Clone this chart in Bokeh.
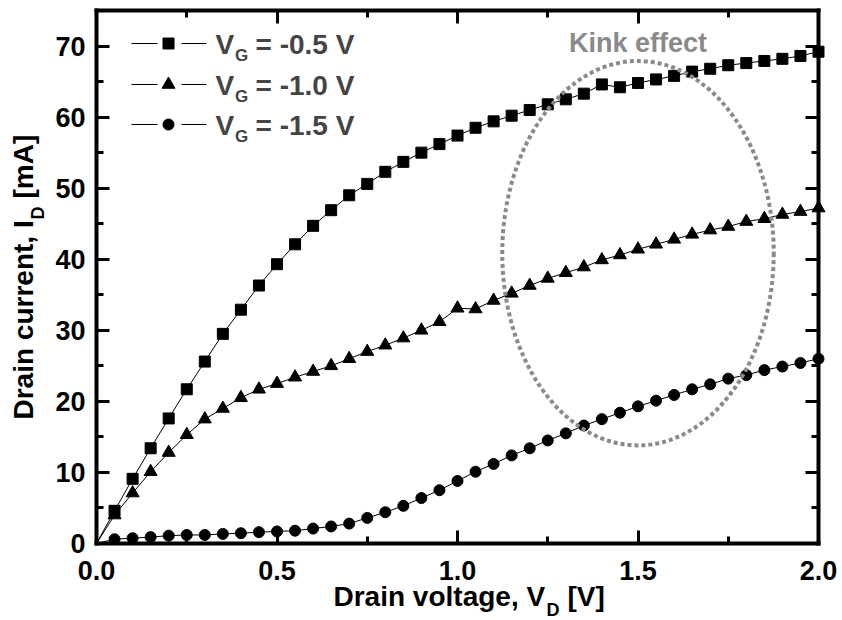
import math
from bokeh.plotting import figure
from bokeh.models import Range1d, LinearAxis, Label, FixedTicker, PrintfTickFormatter
from bokeh.embed import file_html
from bokeh.resources import INLINE

# ---------------- data ----------------
V_D = [0.00, 0.05, 0.10, 0.15, 0.20, 0.25, 0.30, 0.35, 0.40, 0.45,
       0.50, 0.55, 0.60, 0.65, 0.70, 0.75, 0.80, 0.85, 0.90, 0.95,
       1.00, 1.05, 1.10, 1.15, 1.20, 1.25, 1.30, 1.35, 1.40, 1.45,
       1.50, 1.55, 1.60, 1.65, 1.70, 1.75, 1.80, 1.85, 1.90, 1.95, 2.00]

I_D_VG_m05 = [0.0, 4.6, 9.1, 13.4, 17.6, 21.7, 25.6, 29.5, 32.9, 36.3,
              39.3, 42.1, 44.7, 46.9, 49.0, 50.6, 52.3, 53.7, 55.0, 56.2,
              57.4, 58.5, 59.4, 60.2, 61.0, 61.8, 62.5, 63.3, 64.6, 64.2,
              64.8, 65.3, 65.8, 66.4, 66.8, 67.3, 67.6, 67.9, 68.2, 68.6, 69.2]

I_D_VG_m10 = [0.0, 4.0, 7.1, 10.1, 12.8, 15.3, 17.5, 19.0, 20.5, 21.7,
              22.5, 23.4, 24.2, 25.0, 26.0, 27.0, 27.9, 28.9, 30.0, 31.2,
              33.1, 33.0, 34.2, 35.2, 36.3, 37.3, 38.1, 38.9, 39.9, 40.6,
              41.4, 42.1, 42.8, 43.5, 44.1, 44.6, 45.3, 45.7, 46.3, 46.7, 47.2]

I_D_VG_m15 = [0.0, 0.6, 0.75, 0.9, 1.1, 1.2, 1.2, 1.35, 1.45, 1.6,
              1.7, 1.8, 2.1, 2.4, 2.8, 3.6, 4.4, 5.3, 6.4, 7.5,
              8.8, 10.1, 11.2, 12.4, 13.4, 14.5, 15.5, 16.6, 17.5, 18.4,
              19.3, 20.1, 20.9, 21.7, 22.4, 23.2, 23.7, 24.4, 24.9, 25.4, 26.0]

series_values = ["-0.5", "-1.0", "-1.5"]
series_markers = ["square", "triangle", "circle"]

x_lim = (0.0, 2.0)
y_lim = (0.0, 75.0)
x_ticks = [0.0, 0.5, 1.0, 1.5, 2.0]
x_minor = [0.25, 0.75, 1.25, 1.75]
y_ticks = [0, 10, 20, 30, 40, 50, 60, 70]
y_minor = [5, 15, 25, 35, 45, 55, 65]

kink_text = "Kink effect"
kink_x, kink_y, kink_w, kink_h = 1.5, 40.85, 0.752, 54.1

x_title = ("Drain voltage, V", "D", "[V]")
y_title = ("Drain current, I", "D", "[mA]")

# ---------------- layout ----------------
W, H = 842, 620
L, R, T, B = 96, 24, 10, 77          # plot-area margins in pixels
FONT = "Liberation Sans"
GRAY = "#8a8a8a"

# the frame covers the whole canvas; the axes sit at fixed data locations
ux = (x_lim[1] - x_lim[0]) / (W - L - R)
uy = (y_lim[1] - y_lim[0]) / (H - T - B)
x_range = Range1d(x_lim[0] - L * ux, x_lim[1] + R * ux)
y_range = Range1d(y_lim[0] - B * uy, y_lim[1] + T * uy)

p = figure(width=W, height=H, x_range=x_range, y_range=y_range,
           output_backend="svg", toolbar_location=None,
           x_axis_location=None, y_axis_location=None,
           min_border=0, min_border_left=0, min_border_right=0,
           min_border_top=0, min_border_bottom=0)
p.title.visible = False
p.outline_line_color = None
p.background_fill_color = "white"
p.border_fill_color = "white"
p.xgrid.visible = False
p.ygrid.visible = False

# pixel-space helper ranges (canvas coordinates, top-left origin)
p.extra_x_ranges = {"px": Range1d(0, W)}
p.extra_y_ranges = {"px": Range1d(H, 0)}


def make_axis(ticks, minor, fixed, bounds, show_labels, standoff=0, fmt=None):
    kw = {}
    if not show_labels:
        kw["major_label_overrides"] = {t: "" for t in ticks}
    ax = LinearAxis(ticker=FixedTicker(ticks=ticks, minor_ticks=minor),
                    fixed_location=fixed, bounds=bounds, **kw)
    if fmt is not None:
        ax.formatter = fmt
    ax.axis_line_width = 4
    ax.axis_line_color = "black"
    ax.axis_line_cap = "square"
    ax.major_tick_in = 13
    ax.major_tick_out = 0
    ax.minor_tick_in = 7
    ax.minor_tick_out = 0
    ax.major_tick_line_width = 3
    ax.minor_tick_line_width = 3
    ax.major_tick_line_color = "black"
    ax.minor_tick_line_color = "black"
    ax.major_label_text_font = FONT
    ax.major_label_text_font_style = "bold"
    ax.major_label_text_font_size = "27px"
    ax.major_label_text_color = "black"
    ax.major_label_standoff = standoff
    ax.axis_label = None
    return ax


p.add_layout(make_axis(x_ticks, x_minor, y_lim[0], x_lim, True, 17,
                       PrintfTickFormatter(format="%.1f")), "below")
p.add_layout(make_axis(x_ticks, x_minor, y_lim[1], x_lim, False), "above")
p.add_layout(make_axis(y_ticks, y_minor, x_lim[0], y_lim, True, 11), "left")
p.add_layout(make_axis(y_ticks, y_minor, x_lim[1], y_lim, False), "right")

# ---------------- series ----------------
series = [I_D_VG_m05, I_D_VG_m10, I_D_VG_m15]
marker_sizes = {"square": 11, "triangle": 13, "circle": 11}
for ys, mk in zip(series, series_markers):
    p.line(V_D, ys, line_color="black", line_width=1)
    p.scatter(V_D[1:], ys[1:], marker=mk, size=marker_sizes[mk],
              fill_color="black", line_color="black")

# ---------------- kink ellipse + text ----------------
p.ellipse(x=kink_x, y=kink_y, width=kink_w, height=kink_h, fill_color=None,
          line_color=GRAY, line_width=4, line_dash="4 3")
p.add_layout(Label(x=kink_x, y=42, y_range_name="px", text=kink_text,
                   text_font=FONT, text_font_style="bold", text_font_size="27px",
                   text_color=GRAY, text_align="center", text_baseline="alphabetic"))

# ---------------- legend (hand drawn) ----------------
row_y = [43, 84, 124]
for ry, mk, sv in zip(row_y, series_markers, series_values):
    p.segment(x0=[131, 181], x1=[157, 206], y0=[ry, ry], y1=[ry, ry],
              x_range_name="px", y_range_name="px", line_color="black", line_width=1)
    p.scatter([168], [ry], marker=mk, size=marker_sizes[mk], fill_color="black",
              line_color="black", x_range_name="px", y_range_name="px")
    p.add_layout(Label(x=215, y=ry + 1, x_range_name="px", y_range_name="px", text="V",
                       text_font=FONT, text_font_style="bold", text_font_size="28px",
                       text_baseline="alphabetic"))
    p.add_layout(Label(x=234.5, y=ry + 12, x_range_name="px", y_range_name="px", text="G",
                       text_font=FONT, text_font_style="bold", text_font_size="17px",
                       text_baseline="alphabetic"))
    p.add_layout(Label(x=255, y=ry + 1, x_range_name="px", y_range_name="px",
                       text="= " + sv + " V",
                       text_font=FONT, text_font_style="bold", text_font_size="28px",
                       text_baseline="alphabetic"))

# ---------------- axis titles ----------------
tkw = dict(x_range_name="px", y_range_name="px", text_font=FONT,
           text_font_style="bold", text_baseline="alphabetic", text_color="black")
# x title
p.add_layout(Label(x=333, y=596, text=x_title[0], text_font_size="28px", **tkw))
p.add_layout(Label(x=546, y=609, text=x_title[1], text_font_size="18px", **tkw))
p.add_layout(Label(x=567, y=596, text=x_title[2], text_font_size="28px", **tkw))
# y title (rotated)
p.add_layout(Label(x=23, y=419, angle=math.pi / 2, text=y_title[0], text_font_size="28px", **tkw))
p.add_layout(Label(x=37, y=219, angle=math.pi / 2, text=y_title[1], text_font_size="18px", **tkw))
p.add_layout(Label(x=23, y=198, angle=math.pi / 2, text=y_title[2], text_font_size="28px", **tkw))

open("out.html", "w").write(file_html(p, INLINE))
